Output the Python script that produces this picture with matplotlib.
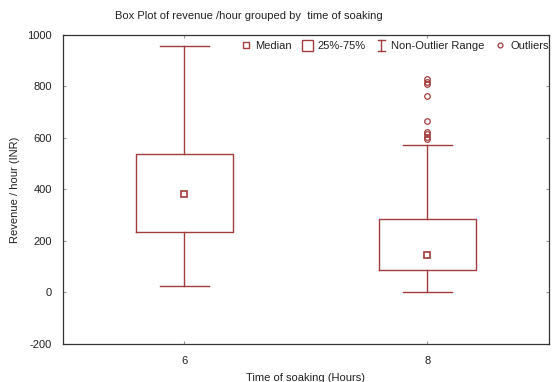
import matplotlib.pyplot as plt
from matplotlib.lines import Line2D
from matplotlib.patches import Rectangle
from matplotlib.legend_handler import HandlerBase

plt.rcParams["font.family"] = ["Liberation Sans", "DejaVu Sans"]
plt.rcParams["axes.unicode_minus"] = False

# data
soak_hours = [6, 8]
whisker_low = [26, 0]
q1 = [236, 87]
medians = [384, 147]
q3 = [537, 284]
whisker_high = [957, 573]
outliers_6 = []
outliers_8 = [829, 818, 810, 764, 665, 624, 616, 605, 596]

red = "#a33c3c"


class IBeamHandler(HandlerBase):
    def create_artists(self, legend, orig_handle, xdescent, ydescent,
                       width, height, fontsize, trans):
        cx = -xdescent + width / 2
        y0 = -ydescent + 0.0 * height
        y1 = -ydescent + 1.0 * height
        cap = width * 0.3
        parts = [
            Line2D([cx, cx], [y0, y1]),
            Line2D([cx - cap, cx + cap], [y0, y0]),
            Line2D([cx - cap, cx + cap], [y1, y1]),
        ]
        for p in parts:
            p.set_color(red)
            p.set_linewidth(1)
            p.set_transform(trans)
        return parts


fig = plt.figure(figsize=(5.56, 3.82), dpi=100)
ax = fig.add_axes([0.1133, 0.0995, 0.8741, 0.8089])

stats = []
fliers = [outliers_6, outliers_8]
for i in range(len(soak_hours)):
    stats.append({
        "med": medians[i], "q1": q1[i], "q3": q3[i],
        "whislo": whisker_low[i], "whishi": whisker_high[i],
        "fliers": fliers[i],
    })

ax.bxp(stats, positions=soak_hours, widths=0.8, manage_ticks=False,
       boxprops=dict(color=red, linewidth=1),
       whiskerprops=dict(color=red, linewidth=1),
       capprops=dict(color=red, linewidth=1),
       capwidths=0.4,
       medianprops=dict(linestyle="none"),
       flierprops=dict(marker="o", markersize=4, markerfacecolor="none",
                       markeredgecolor=red, markeredgewidth=0.9))
ax.plot(soak_hours, medians, linestyle="none", marker="s", markersize=5,
        markerfacecolor="white", markeredgecolor=red, markeredgewidth=1.2)

ax.set_xlim(5, 9)
ax.set_ylim(-200, 1000)
ax.set_xticks(soak_hours)
ax.set_yticks(range(-200, 1001, 200))
ax.tick_params(direction="in", length=2, top=True, right=True,
               color="#999999", labelsize=8, labelcolor="#222222")
ax.tick_params(axis="x", pad=9)
ax.tick_params(axis="y", pad=8)
for s in ax.spines.values():
    s.set_color("#333333")
    s.set_linewidth(0.9)

ax.set_xlabel("Time of soaking (Hours)", fontsize=8, color="#222222", labelpad=5)
ax.set_ylabel("Revenue / hour (INR)", fontsize=8, color="#222222", labelpad=5)
fig.text(249 / 556, 1 - 16 / 382, "Box Plot of revenue /hour grouped by  time of soaking",
         ha="center", va="center", fontsize=8, color="#222222")

h_med = Line2D([], [], linestyle="none", marker="s", markersize=4,
               markerfacecolor="white", markeredgecolor=red, markeredgewidth=1)
h_box = Rectangle((0, 0), 1, 1, facecolor="none", edgecolor=red, linewidth=1)
h_rng = Line2D([], [], color=red)
h_out = Line2D([], [], linestyle="none", marker="o", markersize=3.5,
               markerfacecolor="none", markeredgecolor=red, markeredgewidth=0.9)
leg = ax.legend([h_med, h_box, h_rng, h_out],
                ["Median", "25%-75%", "Non-Outlier Range", "Outliers"],
                handler_map={h_rng: IBeamHandler()},
                loc="upper left", bbox_to_anchor=(240 / 556, 1 - 40 / 382),
                bbox_transform=fig.transFigure, ncol=4, frameon=False,
                fontsize=8, handlelength=1.0, handleheight=1.1,
                handletextpad=0.4, columnspacing=0.9, borderpad=0,
                borderaxespad=0)
for t in leg.get_texts():
    t.set_color("#222222")

fig.savefig("out.png", dpi=100)
